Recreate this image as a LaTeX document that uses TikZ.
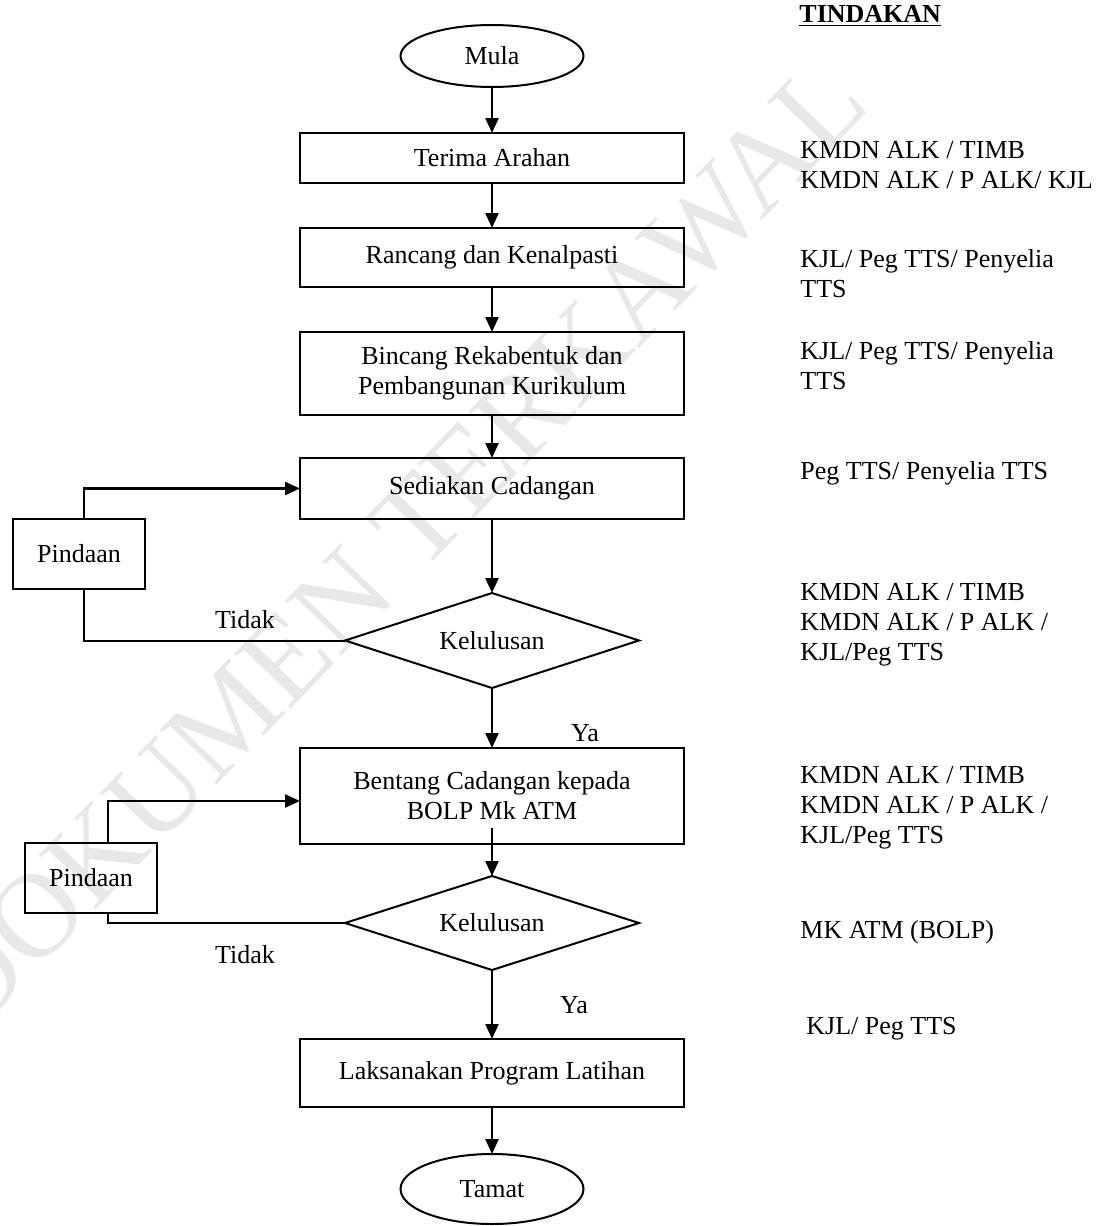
\documentclass[tikz,border=0pt]{standalone}
\usepackage{fontspec}
\setmainfont{Liberation Serif}
\usetikzlibrary{
	shapes.geometric,
	positioning,
	arrows.meta
}
\tikzset{
	node distance=22pt,
	every node/.append style={
		font=\fontsize{13}{15}\selectfont
	},
	proses/.style={
		draw, line width=1pt, rectangle, minimum width=192pt,
		align=center, inner sep=2pt, outer sep=0pt
	},
	hujung/.style={
		draw, line width=1pt, ellipse, minimum width=91.5pt, outer sep=0pt
	},
	keputusan/.style={
		draw, line width=1pt, diamond, shape aspect=3, inner sep=0pt,
		minimum width=147pt, minimum height=47.5pt, outer sep=0pt
	},
	pindaan/.style={
		draw, line width=1pt, rectangle, minimum width=66pt,
		minimum height=35pt, outer sep=0pt
	},
	tindakan/.style={
		anchor=west, align=left, inner sep=0pt
	},
	tera/.style={
		text=black!9, inner sep=0pt,
		font=\fontsize{60}{60}\selectfont
	},
	panah/.style={
		-{Triangle[length=7.5pt,width=6.5pt]}, line width=1.2pt
	},
	every edge/.append style={
		-{Triangle[length=7.5pt,width=6.5pt]}, line width=1.2pt
	}
}

\begin{document}
\begin{tikzpicture}[x=0.5pt,y=-0.5pt]
	\useasboundingbox (0,0) rectangle (1113,1226);

	% tera air
	\node[tera, rotate=46] (teraair) at (395,545) {DOKUMEN TERKAWAL};

	\draw
		node[hujung, minimum height=31pt] (mula) at (492,56) {Mula}
		node[proses, minimum height=25pt, below=23pt of mula]          (terima)   {Terima Arahan}
		node[proses, minimum height=29.5pt, below=22.5pt of terima]    (rancang)  {Rancang dan Kenalpasti}
		node[proses, minimum height=41.5pt, below=22.5pt of rancang]   (bincang)  {Bincang Rekabentuk dan\\Pembangunan Kurikulum}
		node[proses, minimum height=30.5pt, below=21.5pt of bincang]   (sediakan) {Sediakan Cadangan}
		node[keputusan, below=37pt of sediakan]                         (lulus1)   {Kelulusan}
		node[proses, minimum height=48pt, below=30pt of lulus1]        (bentang)  {Bentang Cadangan kepada\\BOLP Mk ATM}
		node[keputusan, minimum height=47pt, below=16pt of bentang]    (lulus2)   {Kelulusan}
		node[proses, minimum height=34pt, below=34.5pt of lulus2]      (laksana)  {Laksanakan Program Latihan}
		node[hujung, minimum height=35pt, below=23.5pt of laksana]     (tamat)    {Tamat}

		(mula) edge (terima)
		(terima) edge (rancang)
		(rancang) edge (bincang)
		(bincang) edge (sediakan)
		(sediakan) edge (lulus1)
		(lulus1) edge (bentang)
		([yshift=8pt]bentang.south) edge (lulus2)
		(lulus2) edge (laksana)
		(laksana) edge (tamat)
	;

	% gelung pindaan
	\node[pindaan] (pinda1) at (79,554) {Pindaan};
	\node[pindaan] (pinda2) at (91,878) {Pindaan};
	\draw[line width=1pt] (lulus1.west) -| ([xshift=2.5pt]pinda1.south);
	\draw[panah] ([xshift=2.5pt]pinda1.north) |- (sediakan.west);
	\draw[line width=1pt] (lulus2.west) -| ([xshift=8.5pt]pinda2.south);
	\draw[panah] ([xshift=8.5pt]pinda2.north) |- ([yshift=-2.5pt]bentang.west);

	\node (tidak1) at (245,620) {Tidak};
	\node (ya1) at (585,733) {Ya};
	\node (tidak2) at (245,955) {Tidak};
	\node (ya2) at (574,1005) {Ya};

	% lajur tindakan
	\node[tindakan] (tindak0) at (799,16) {\textbf{\underline{TINDAKAN}}};
	\node[tindakan] (tindak1) at (800,165) {KMDN ALK / TIMB\\KMDN ALK / P ALK/ KJL};
	\node[tindakan] (tindak2) at (800,274) {KJL/ Peg TTS/ Penyelia\\TTS};
	\node[tindakan] (tindak3) at (800,366) {KJL/ Peg TTS/ Penyelia\\TTS};
	\node[tindakan] (tindak4) at (800,473) {Peg TTS/ Penyelia TTS};
	\node[tindakan] (tindak5) at (800,625) {KMDN ALK / TIMB\\KMDN ALK / P ALK /\\KJL/Peg TTS};
	\node[tindakan] (tindak6) at (800,808) {KMDN ALK / TIMB\\KMDN ALK / P ALK /\\KJL/Peg TTS};
	\node[tindakan] (tindak7) at (800,932) {MK ATM (BOLP)};
	\node[tindakan] (tindak8) at (806,1029) {KJL/ Peg TTS};
\end{tikzpicture}
\end{document}
